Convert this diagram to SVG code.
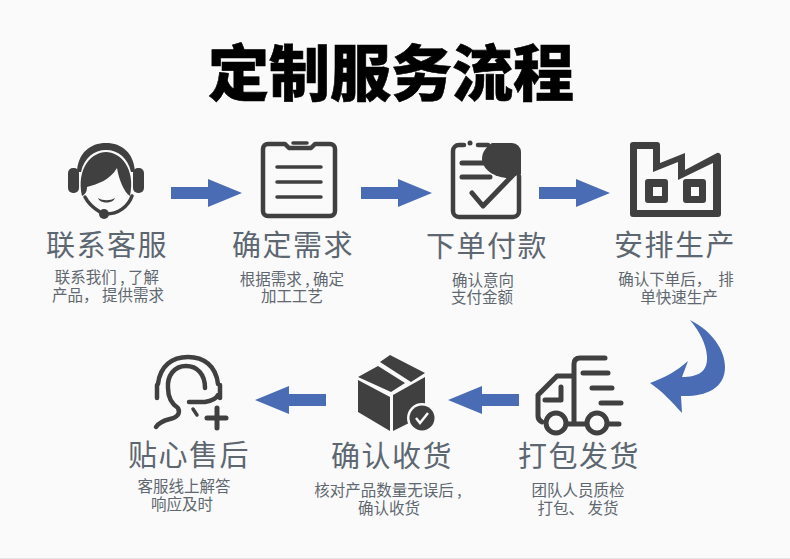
<svg xmlns="http://www.w3.org/2000/svg" width="790" height="559" viewBox="0 0 790 559">
<style>
text{font-family:"Noto Sans CJK SC","Noto Sans",sans-serif;text-anchor:middle}
.t{font-size:61px;font-weight:900;fill:#000;stroke:#000;stroke-width:.6}
.h{font-size:29px;fill:#5d6771;letter-spacing:1.5px}
.s{font-size:15.5px;fill:#5f6870}
.d{fill:#404040}
.l{fill:none;stroke:#404040;stroke-width:5;stroke-linecap:round;stroke-linejoin:round}
.a{fill:#4a6cb4}
</style>
<defs><path id="ar" class="a" d="M0-6H37V-14L71 0L37 14V6H0Z"/></defs>
<rect width="790" height="559" fill="#fafafa"/>
<rect y="558" width="790" height="1" fill="#e6e6e6"/>
<text class="t" x="391" y="96">定制服务流程</text>
<g id="connectors">
<use href="#ar" x="171" y="193"/>
<use href="#ar" x="361" y="193"/>
<use href="#ar" x="539" y="193"/>
<path class="a" d="M690 320C712 331 725 350 725 367C725 390 703 397 681 396L682 413C672 402 662 391 650 383C664 378 677 371 688 361L682 377C698 377 708 372 707 356C706 344 700 332 690 320Z"/>
<use href="#ar" transform="translate(519 400) rotate(180)"/>
<use href="#ar" transform="translate(326 400) rotate(180)"/>
</g>
<g id="n1">
<rect class="d" x="68" y="168" width="11" height="25" rx="5"/>
<rect class="d" x="133" y="168" width="11" height="25" rx="5"/>
<path class="d" d="M77 172C78 153 90 143 106 143C122 143 134 153 135 172H131C128 158 118 150 106 150C94 150 84 158 81 172Z"/>
<path class="d" d="M82 196C76 168 92 152 106 152C120 152 136 168 130 196C124 192 119 180 117 168C110 180 98 184 87 187C87 191 86 194 82 196Z"/>
<path class="l" style="stroke-width:3.5" d="M85 197C89 205 95 209 100 212M132 196C128 207 118 214 106 214"/>
<circle class="d" cx="104" cy="214" r="5"/>
<path class="d" d="M98 198C103 201 110 201 115 198C113 204 100 204 98 198Z"/>
</g>
<g id="n2">
<path class="l" d="M268 144H285L289 148H311L315 144H330A5 5 0 0 1 335 149V211A5 5 0 0 1 330 216H268A5 5 0 0 1 263 211V149A5 5 0 0 1 268 144Z" style="stroke-width:4.5"/>
<path class="l" style="stroke-width:3.5" d="M277 167H321M277 182H321M277 197H321M293 143H307"/>
</g>
<g id="n3">
<path class="l" d="M464 145H459A6 6 0 0 0 453 151V211A6 6 0 0 0 459 217H513A6 6 0 0 0 519 211V176M478 145H488" style="stroke-width:4.5"/>
<circle class="d" cx="470" cy="143" r="2.5"/>
<path class="d" d="M492 143H512A9 9 0 0 1 521 152V174L509 178C493 178 482 168 482 159C482 152 486 147 492 143Z"/>
<path class="l" d="M462 163H484M462 177H490M472 193L483 206L515 173"/>
</g>
<g id="n4">
<path class="d" d="M630 145A3 3 0 0 1 633 142H657A3 3 0 0 1 660 145V163L685 153V170L717 153A3 3 0 0 1 721 156V214A3 3 0 0 1 718 217H633A3 3 0 0 1 630 214ZM637 149V210H713V163L678 180V162L653 172V149ZM648 179H665A3 3 0 0 1 668 182V200A3 3 0 0 1 665 203H648A3 3 0 0 1 645 200V182A3 3 0 0 1 648 179ZM686 179H703A3 3 0 0 1 706 182V200A3 3 0 0 1 703 203H686A3 3 0 0 1 683 200V182A3 3 0 0 1 686 179ZM653 187V196H662V187ZM691 187V196H699V187Z" fill-rule="evenodd"/>
</g>
<g id="n5">
<path class="l" d="M605 358H580Q574 358 574 364V423M572 376H557L538 395V416Q538 420 542 422M561 387V400H545M567 424H587M607 424H619"/>
<path class="l" d="M583 373H608M592 388H612M601 403H621"/>
<circle cx="556" cy="423" r="10" fill="#fafafa" stroke="#404040" stroke-width="5"/>
<circle cx="597" cy="423" r="10" fill="#fafafa" stroke="#404040" stroke-width="5"/>
</g>
<g id="n6">
<path class="d" d="M358 377L378 366L405 383L391 392Z M380 362L390 355L425 373L411 382Z"/>
<path class="d" d="M358 380L390 397V431L358 412Z"/>
<path class="d" d="M393 395L425 377V415L393 431Z"/>
<circle cx="422" cy="418" r="15" fill="#fafafa"/>
<circle class="d" cx="422" cy="418" r="12.5"/>
<path fill="none" stroke="#fafafa" stroke-width="2.5" d="M416 418L420 423L428 413"/>
</g>
<g id="n7">
<path class="l" style="stroke-width:4.5" d="M158 384C160 366 172 357 188 357C204 357 216 366 218 384M157 385V398M220 385V398M189 402H205C211 401 216 399 218 395M205 388C205 374 197 366 186 366C174 366 167 376 168 388C168 397 172 404 178 408C181 414 176 418 170 419C162 421 158 424 156 427"/>
<path class="l" d="M207 418H226M217 408V428"/>
<path class="l" style="stroke-width:3.5" d="M193 409L197 415"/>
</g>
<g id="labels">
<text class="h" x="107" y="256">联系客服</text>
<text class="h" x="293" y="256">确定需求</text>
<text class="h" x="487" y="257">下单付款</text>
<text class="h" x="675" y="256">安排生产</text>
<text class="h" x="189" y="466">贴心售后</text>
<text class="h" x="392" y="467">确认收货</text>
<text class="h" x="579" y="467">打包发货</text>
<text class="s" x="107" y="283">联系我们 , 了解</text>
<text class="s" x="108" y="301">产品， 提供需求</text>
<text class="s" x="292" y="285">根据需求&#160;, 确定</text>
<text class="s" x="292" y="302">加工工艺</text>
<text class="s" x="483" y="286">确认意向</text>
<text class="s" x="482" y="303">支付金额</text>
<text class="s" x="676" y="285">确认下单后，&#160;&#160;排</text>
<text class="s" x="679" y="303">单快速生产</text>
<text class="s" x="184" y="492">客服线上解答</text>
<text class="s" x="182" y="510">响应及时</text>
<text class="s" x="388" y="496">核对产品数量无误后 ,</text>
<text class="s" x="389" y="514">确认收货</text>
<text class="s" x="578" y="496">团队人员质检</text>
<text class="s" x="578" y="514">打包、 发货</text>
</g>
</svg>
